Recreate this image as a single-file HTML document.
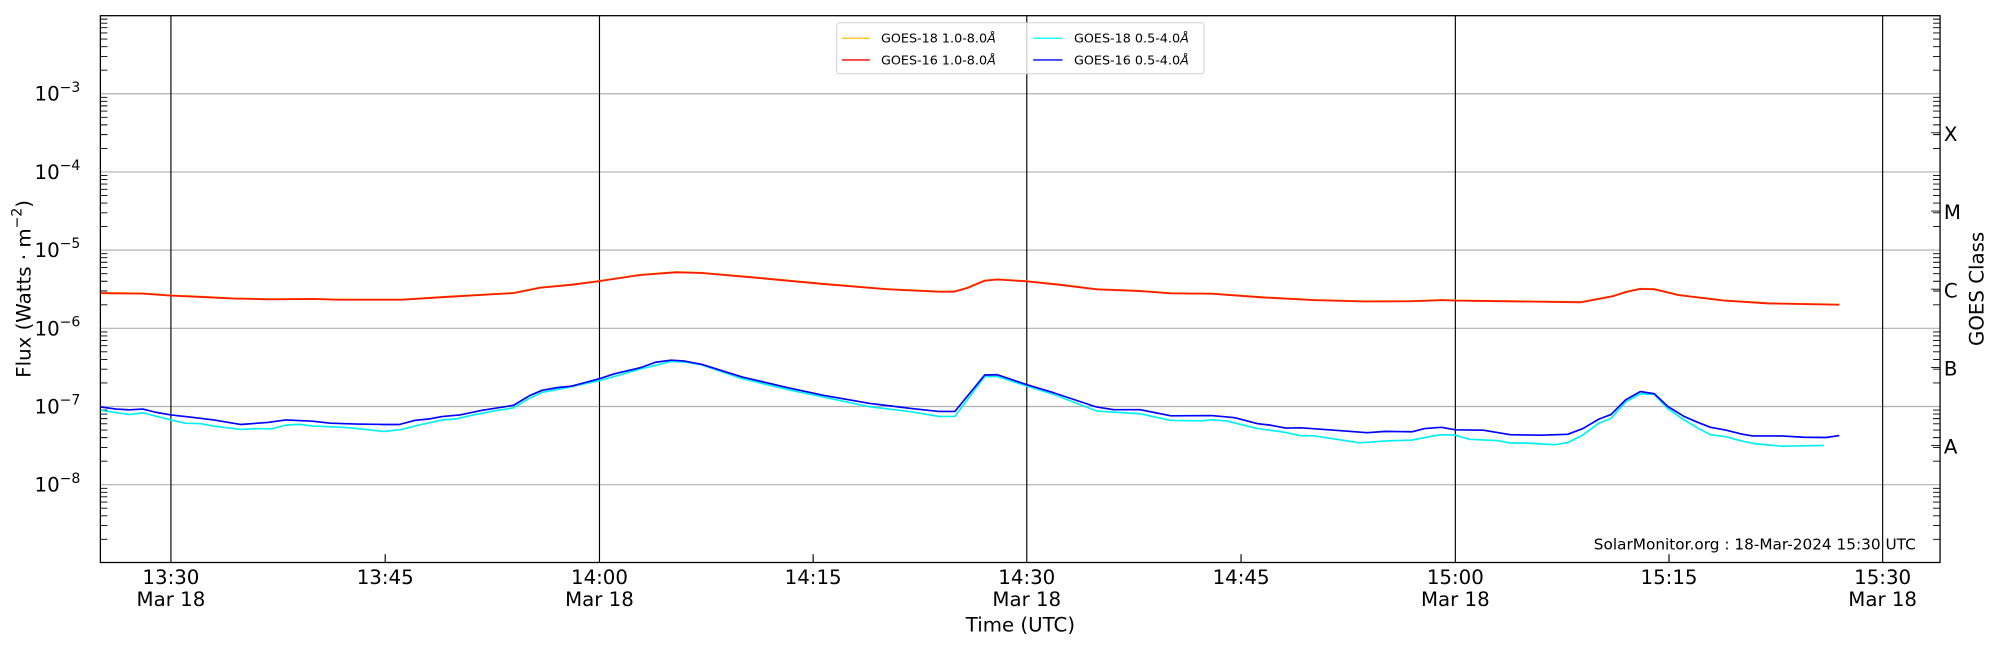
<!DOCTYPE html>
<html><head><meta charset="utf-8"><style>html,body{margin:0;padding:0;background:#fff}svg{display:block}</style></head>
<body>
<svg width="2000" height="650" viewBox="0 0 1568 509.6" xmlns="http://www.w3.org/2000/svg" font-family="DejaVu Sans, Liberation Sans, sans-serif">
<rect width="1568" height="510" fill="#fff"/>
<g stroke="#b0b0b0" stroke-width="0.9">
<line x1="78.7" x2="1521" y1="73.5" y2="73.5"/>
<line x1="78.7" x2="1521" y1="134.8" y2="134.8"/>
<line x1="78.7" x2="1521" y1="196.1" y2="196.1"/>
<line x1="78.7" x2="1521" y1="257.4" y2="257.4"/>
<line x1="78.7" x2="1521" y1="318.7" y2="318.7"/>
<line x1="78.7" x2="1521" y1="380" y2="380"/>
</g>
<g stroke="#000" stroke-width="0.9">
<line x1="134" x2="134" y1="12.3" y2="441"/>
<line x1="470" x2="470" y1="12.3" y2="441"/>
<line x1="805" x2="805" y1="12.3" y2="441"/>
<line x1="1141" x2="1141" y1="12.3" y2="441"/>
<line x1="1476" x2="1476" y1="12.3" y2="441"/>
<line x1="302" x2="302" y1="441" y2="434.5"/>
<line x1="637.5" x2="637.5" y1="441" y2="434.5"/>
<line x1="973" x2="973" y1="441" y2="434.5"/>
<line x1="1308.5" x2="1308.5" y1="441" y2="434.5"/>
</g>
<path stroke="#000" stroke-width="0.7" fill="none" d="
M78.7 422.85h5.5M78.7 412.05h5.5M78.7 404.4h5.5M78.7 398.45h5.5M78.7 393.6h5.5M78.7 389.5h5.5M78.7 385.95h5.5M78.7 382.8h5.5
M78.7 361.55h5.5M78.7 350.75h5.5M78.7 343.1h5.5M78.7 337.15h5.5M78.7 332.3h5.5M78.7 328.2h5.5M78.7 324.65h5.5M78.7 321.5h5.5
M78.7 300.25h5.5M78.7 289.45h5.5M78.7 281.8h5.5M78.7 275.85h5.5M78.7 271h5.5M78.7 266.9h5.5M78.7 263.35h5.5M78.7 260.2h5.5
M78.7 238.95h5.5M78.7 228.15h5.5M78.7 220.5h5.5M78.7 214.55h5.5M78.7 209.7h5.5M78.7 205.6h5.5M78.7 202.05h5.5M78.7 198.9h5.5
M78.7 177.65h5.5M78.7 166.85h5.5M78.7 159.2h5.5M78.7 153.25h5.5M78.7 148.4h5.5M78.7 144.3h5.5M78.7 140.75h5.5M78.7 137.6h5.5
M78.7 116.35h5.5M78.7 105.55h5.5M78.7 97.9h5.5M78.7 91.95h5.5M78.7 87.1h5.5M78.7 83h5.5M78.7 79.45h5.5M78.7 76.3h5.5
M78.7 55.05h5.5M78.7 44.25h5.5M78.7 36.6h5.5M78.7 30.65h5.5M78.7 25.8h5.5M78.7 21.7h5.5M78.7 18.15h5.5M78.7 15h5.5
M1521 422.85h-5.5M1521 412.05h-5.5M1521 404.4h-5.5M1521 398.45h-5.5M1521 393.6h-5.5M1521 389.5h-5.5M1521 385.95h-5.5M1521 382.8h-5.5
M1521 361.55h-5.5M1521 350.75h-5.5M1521 343.1h-5.5M1521 337.15h-5.5M1521 332.3h-5.5M1521 328.2h-5.5M1521 324.65h-5.5M1521 321.5h-5.5
M1521 300.25h-5.5M1521 289.45h-5.5M1521 281.8h-5.5M1521 275.85h-5.5M1521 271h-5.5M1521 266.9h-5.5M1521 263.35h-5.5M1521 260.2h-5.5
M1521 238.95h-5.5M1521 228.15h-5.5M1521 220.5h-5.5M1521 214.55h-5.5M1521 209.7h-5.5M1521 205.6h-5.5M1521 202.05h-5.5M1521 198.9h-5.5
M1521 177.65h-5.5M1521 166.85h-5.5M1521 159.2h-5.5M1521 153.25h-5.5M1521 148.4h-5.5M1521 144.3h-5.5M1521 140.75h-5.5M1521 137.6h-5.5
M1521 116.35h-5.5M1521 105.55h-5.5M1521 97.9h-5.5M1521 91.95h-5.5M1521 87.1h-5.5M1521 83h-5.5M1521 79.45h-5.5M1521 76.3h-5.5
M1521 55.05h-5.5M1521 44.25h-5.5M1521 36.6h-5.5M1521 30.65h-5.5M1521 25.8h-5.5M1521 21.7h-5.5M1521 18.15h-5.5M1521 15h-5.5
M1521 104.15h-7M1521 165.45h-7M1521 226.75h-7M1521 288.05h-7M1521 349.35h-7"/>
<g fill="none" stroke-linejoin="round">
<polyline stroke="#ffc000" stroke-width="1.4" points="78.7,229.6 112,230 134,231.6 157.5,232.6 182,233.8 210,234.5 245,234.2 266,234.8 315,234.8 350,232.6 385,230.6 402.5,229.6 423.5,225.4 448,223.1 470,220.2 502,215.4 530,213.3 550,213.8 590,217.3 646,222.5 694,226.5 736,228.5 748,228.5 758,225.7 772,219.9 782,218.9 805,220.4 830,223 860,226.7 894,228 918,229.8 950,230.1 990,233 1030,235.1 1070,236.2 1107,236 1131,235.1 1141,235.5 1239.5,236.8 1264,232.2 1274.5,228.8 1286,226.3 1297,226.6 1316,231.2 1351,235.4 1386,237.7 1442,238.7"/>
<polyline stroke="#ff1a00" stroke-width="1.4" points="78.7,229.9 112,230.2 134,231.8 157.5,232.8 182,234 210,234.7 245,234.4 266,235 315,235 350,232.8 385,230.8 402.5,229.8 423.5,225.6 448,223.3 470,220.4 502,215.6 530,213.5 550,214 590,217.5 646,222.7 694,226.7 736,228.7 748,228.7 758,225.9 772,220.1 782,219.1 805,220.6 830,223.2 860,226.9 894,228.2 918,230 950,230.3 990,233.2 1030,235.3 1070,236.4 1107,236.2 1131,235.3 1141,235.7 1239.5,237 1264,232.4 1274.5,229 1286,226.5 1297,226.8 1316,231.4 1351,235.6 1386,237.9 1442,238.9"/>
<polyline stroke="#00f0f0" stroke-width="1.3" points="78.7,321.7 101.5,325 112,323.7 134,329.2 145,331.8 157.5,332.2 167.5,334 188.5,336.7 201,336 213,336.3 224,333.3 234.5,332.7 245,334 269.5,335 280,336 301,338.3 315,336.7 329,333.1 346.5,329.2 357,328.5 371,325.3 388.5,322 402.5,319.8 415,312.3 425,307.7 444.5,303.8 470,298.4 502,289.3 526,283.5 536,283.8 550,286 582,296.9 618,305.5 682,318.9 714,322.8 736,326.5 748.6,326.5 772,295.2 782,295.2 805,302.6 826,309.2 860,322.3 873,323.1 894,324.4 918,329.6 942,329.9 950,329.1 962,330.1 986,336 1008,339 1020,341.7 1030,341.7 1066,347.2 1088,345.6 1107,345 1117,343 1130,340.8 1141,341.2 1152,344.4 1173.5,345.4 1184,347.3 1194.5,347.3 1219,348.6 1229,347 1241,341 1253.5,331.8 1263,328 1274.5,315.2 1286,308.7 1297,309.3 1307.6,320.4 1319.8,328.8 1330,335 1341,340.8 1353,342.4 1365,345.6 1376,347.9 1397,349.8 1430,349.2"/>
<polyline stroke="#0000ff" stroke-width="1.3" points="78.7,319 91,320.7 101.5,321.3 112,320.7 122.5,323.3 134,325.3 150.5,327.2 167.5,329.2 188.5,332.8 210,331.2 224,329.2 245,330.2 259,331.8 280,332.5 301,332.8 313,332.8 325.5,329.5 336,328.5 346.5,326.6 360.5,325.3 378,321.7 402.5,317.8 415,310.3 425,306 437.5,303.8 448,302.8 470,296.9 482,293 502,288.3 514,284 526,282.4 536,283 550,285.6 582,295.6 618,304 646,310 682,316.3 714,320.2 736,322.6 748.6,322.6 772,294 782,293.8 805,301.6 826,307.9 859,318.9 873,321.2 894,321.2 918,326 950,325.8 968,327.5 986,332.2 996,333.3 1008,335.6 1020,335.4 1040.5,336.9 1072,339.2 1086,338.2 1107,338.5 1117,336 1130,335 1141,337 1163,337.3 1184,340.8 1208,341.2 1229,340.5 1241,336 1253.5,328.6 1263,325 1274.5,313.5 1286,307 1297,308.7 1307.6,318.7 1319.8,326.2 1330,330.7 1341,335 1353,337.2 1365,340.2 1374,341.8 1397,341.8 1414,342.8 1431.6,343 1442,341.5"/>
</g>
<rect x="78.7" y="12.3" width="1442.3" height="428.7" fill="none" stroke="#000" stroke-width="1"/>
<rect x="656" y="17.8" width="288" height="40" rx="2" fill="#fff" fill-opacity="0.8" stroke="#d0d0d0" stroke-width="0.8"/>
<line x1="660" x2="682" y1="30" y2="30" stroke="#ffc000" stroke-width="1"/>
<line x1="660" x2="682" y1="47" y2="47" stroke="#ff0000" stroke-width="1"/>
<line x1="810" x2="833" y1="30" y2="30" stroke="#00ffff" stroke-width="1"/>
<line x1="810" x2="833" y1="47" y2="47" stroke="#0000ff" stroke-width="1"/>
<g font-size="10" fill="#000">
<text x="690.7" y="33.5">GOES-18 1.0-8.0<tspan font-style="italic">Å</tspan></text>
<text x="690.7" y="50.5">GOES-16 1.0-8.0<tspan font-style="italic">Å</tspan></text>
<text x="842" y="33.5">GOES-18 0.5-4.0<tspan font-style="italic">Å</tspan></text>
<text x="842" y="50.5">GOES-16 0.5-4.0<tspan font-style="italic">Å</tspan></text>
</g>
<g font-size="15.5" fill="#000" text-anchor="end">
<text x="63" y="79">10<tspan font-size="11" dy="-7">−3</tspan></text>
<text x="63" y="140.3">10<tspan font-size="11" dy="-7">−4</tspan></text>
<text x="63" y="201.6">10<tspan font-size="11" dy="-7">−5</tspan></text>
<text x="63" y="262.9">10<tspan font-size="11" dy="-7">−6</tspan></text>
<text x="63" y="324.2">10<tspan font-size="11" dy="-7">−7</tspan></text>
<text x="63" y="385.5">10<tspan font-size="11" dy="-7">−8</tspan></text>
</g>
<g font-size="15.5" fill="#000" text-anchor="middle">
<text x="134" y="458">13:30</text><text x="134" y="475">Mar 18</text>
<text x="302" y="458">13:45</text>
<text x="470" y="458">14:00</text><text x="470" y="475">Mar 18</text>
<text x="637.5" y="458">14:15</text>
<text x="805" y="458">14:30</text><text x="805" y="475">Mar 18</text>
<text x="973" y="458">14:45</text>
<text x="1141" y="458">15:00</text><text x="1141" y="475">Mar 18</text>
<text x="1308.5" y="458">15:15</text>
<text x="1476" y="458">15:30</text><text x="1476" y="475">Mar 18</text>
<text x="800" y="495">Time (UTC)</text>
<text transform="translate(24,226.5) rotate(-90)">Flux (Watts · m<tspan font-size="11" dy="-7">−2</tspan><tspan dy="7">)</tspan></text>
<text transform="translate(1555,226.5) rotate(-90)">GOES Class</text>
</g>
<g font-size="15.5" fill="#000">
<text x="1524" y="110.5">X</text>
<text x="1524" y="171.8">M</text>
<text x="1524" y="233.1">C</text>
<text x="1524" y="294.4">B</text>
<text x="1524" y="355.7">A</text>
</g>
<text x="1502" y="431" font-size="12" text-anchor="end" fill="#000">SolarMonitor.org : 18-Mar-2024 15:30 UTC</text>
</svg>
</body></html>
